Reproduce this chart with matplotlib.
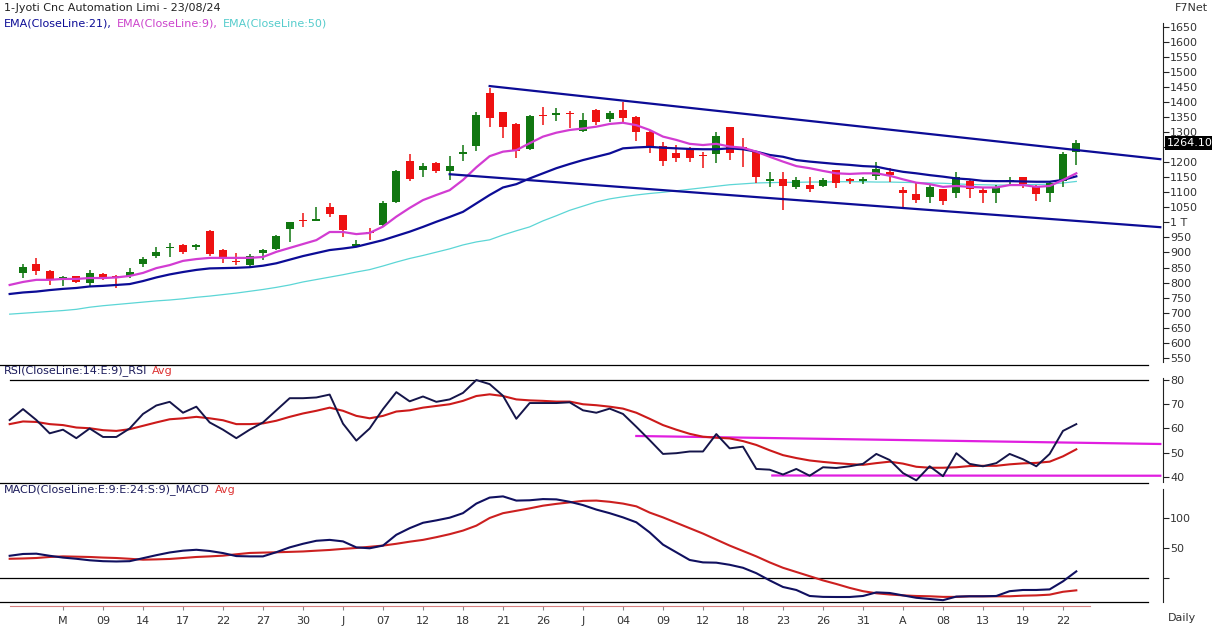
import numpy as np
import matplotlib
matplotlib.use('Agg')
import matplotlib.pyplot as plt
from matplotlib.lines import Line2D
from matplotlib.transforms import blended_transform_factory

W, H = 1212, 627

# ---- candles (index 0..79) ----
opens = [831, 863, 837, 815, 822, 800, 828, 821, 822, 861,
         888, 914, 925, 917, 971, 908, 872, 858, 897, 911,
         977, 1007, 1006, 1050, 1025, 923, 968, 990, 1069, 1203,
         1173, 1196, 1172, 1228, 1255, 1429, 1366, 1327, 1244, 1357,
         1357, 1364, 1303, 1375, 1342, 1373, 1349, 1301, 1254, 1231,
         1243, 1222, 1226, 1316, 1250, 1235, 1138, 1143, 1117, 1124,
         1121, 1174, 1143, 1138, 1155, 1168, 1107, 1094, 1083, 1111,
         1097, 1138, 1107, 1096, 1137, 1151, 1121, 1096, 1138, 1235]
highs = [863, 880, 842, 823, 823, 842, 832, 825, 850, 886,
         918, 933, 928, 928, 975, 910, 897, 895, 910, 957,
         1002, 1030, 1050, 1064, 1025, 940, 980, 1072, 1175, 1227,
         1197, 1200, 1220, 1257, 1368, 1445, 1366, 1330, 1357, 1384,
         1380, 1371, 1362, 1378, 1371, 1401, 1352, 1307, 1268, 1257,
         1250, 1235, 1301, 1316, 1280, 1238, 1168, 1168, 1150, 1152,
         1148, 1174, 1146, 1151, 1201, 1180, 1116, 1132, 1124, 1111,
         1166, 1140, 1113, 1124, 1151, 1152, 1124, 1139, 1234, 1274]
lows = [815, 825, 792, 787, 797, 786, 808, 783, 815, 851,
        882, 886, 895, 908, 888, 865, 858, 851, 875, 908,
        936, 984, 1005, 1019, 953, 920, 940, 986, 1065, 1138,
        1151, 1165, 1140, 1205, 1238, 1318, 1279, 1213, 1240, 1323,
        1338, 1312, 1301, 1323, 1335, 1329, 1271, 1231, 1187, 1202,
        1202, 1180, 1196, 1207, 1185, 1132, 1118, 1041, 1110, 1100,
        1117, 1113, 1127, 1127, 1141, 1135, 1046, 1063, 1066, 1058,
        1080, 1080, 1066, 1063, 1124, 1115, 1072, 1069, 1117, 1190]
closes = [853, 837, 809, 818, 803, 831, 812, 818, 836, 877,
          902, 917, 900, 924, 895, 881, 869, 888, 908, 954,
          1000, 1004, 1012, 1027, 975, 928, 965, 1066, 1170, 1144,
          1186, 1172, 1187, 1233, 1357, 1346, 1316, 1237, 1353, 1352,
          1362, 1361, 1340, 1332, 1362, 1346, 1301, 1254, 1205, 1215,
          1215, 1220, 1287, 1231, 1242, 1152, 1143, 1121, 1141, 1110,
          1141, 1130, 1138, 1143, 1177, 1157, 1096, 1074, 1116, 1072,
          1150, 1110, 1096, 1113, 1141, 1127, 1094, 1130, 1227, 1264.10]

# ---- indicator lines (index -1..79) ----
ema9 = [792, 802, 809, 809, 812, 812, 815, 815, 817, 822, 832,
        848, 858, 872, 878, 882, 882, 882, 882, 885, 902,
        915, 928, 941, 968, 968, 961, 965, 986, 1019, 1048,
        1074, 1091, 1107, 1141, 1183, 1220, 1235, 1240, 1263, 1285,
        1298, 1307, 1312, 1318, 1327, 1331, 1323, 1307, 1285, 1274,
        1261, 1257, 1261, 1252, 1248, 1235, 1218, 1202, 1187, 1180,
        1171, 1163, 1161, 1163, 1163, 1155, 1143, 1132, 1127, 1118,
        1121, 1118, 1116, 1116, 1124, 1124, 1118, 1121, 1141, 1163]
ema21 = [762, 767, 770, 775, 779, 782, 787, 789, 792, 795, 805,
         817, 827, 835, 842, 847, 848, 849, 851, 856, 864,
         876, 888, 898, 908, 913, 919, 930, 941, 955, 969,
         985, 1002, 1018, 1035, 1063, 1091, 1116, 1127, 1146, 1163,
         1180, 1194, 1207, 1218, 1229, 1246, 1249, 1251, 1248, 1246,
         1244, 1243, 1243, 1246, 1243, 1235, 1224, 1218, 1207, 1202,
         1198, 1194, 1191, 1187, 1185, 1176, 1168, 1163, 1157, 1152,
         1146, 1143, 1138, 1137, 1137, 1136, 1135, 1135, 1141, 1153]
ema50 = [695, 698, 701, 704, 707, 711, 718, 723, 727, 731, 735,
         739, 742, 746, 751, 755, 760, 765, 771, 777, 784,
         792, 802, 810, 818, 826, 835, 843, 855, 868, 880,
         890, 901, 912, 925, 935, 942, 958, 972, 985, 1005,
         1022, 1040, 1054, 1068, 1078, 1085, 1091, 1096, 1100, 1105,
         1110, 1115, 1120, 1125, 1128, 1131, 1132, 1133, 1133, 1134,
         1134, 1135, 1135, 1135, 1134, 1134, 1133, 1132, 1131, 1130,
         1128, 1126, 1125, 1124, 1124, 1125, 1126, 1127, 1131, 1136]

rsi = [63.5, 68, 63.5, 58, 59.5, 56, 60, 56.5, 56.5, 60, 66,
       69.5, 71, 66.5, 69, 62.5, 59.5, 56, 59.5, 62.5, 67.5,
       72.5, 72.5, 72.8, 74, 62, 55, 60, 68, 75, 71.2,
       73.2, 71, 72, 74.7, 80, 78.3, 73.5, 64, 70.5, 70.5,
       70.5, 70.8, 67.5, 66.5, 68.2, 66, 60.7, 55.2, 49.5, 49.8,
       50.5, 50.5, 57.7, 51.8, 52.5, 43.3, 43, 41, 43.3, 40.5,
       44, 43.7, 44.4, 45.4, 49.5, 47, 41.6, 38.6, 44.4, 40.3,
       49.8, 45.4, 44.4, 45.7, 49.5, 47.3, 44.4, 49.5, 59, 61.8]
rsi_avg = [61.8, 62.9, 62.7, 61.8, 61.4, 60.4, 60.1, 59.3, 59, 59.7, 61.1,
           62.5, 63.8, 64.2, 64.8, 64.2, 63.4, 61.8, 61.8, 62.1, 63.2,
           64.8, 66.2, 67.3, 68.6, 67.3, 65.2, 64.2, 65.2, 67, 67.5,
           68.6, 69.3, 70, 71.4, 73.4, 74.1, 73.4, 72, 71.6, 71.4,
           71.1, 71.1, 70, 69.6, 69, 68.2, 66.5, 64, 61.4, 59.5,
           57.8, 56.6, 56.2, 55.9, 54.8, 53.2, 51, 49, 47.8, 46.8,
           46.2, 45.7, 45.3, 45, 45.7, 46.3, 45.5, 44.2, 43.8, 43.8,
           44, 44.5, 44.6, 44.6, 45.2, 45.6, 45.8, 46.3, 48.5, 51.4]

macd = [37, 40, 40.5, 37, 34, 32, 29.5, 28, 27.5, 28, 33,
        38, 42.5, 45.5, 47, 45, 41.5, 36.5, 36, 36, 43,
        51, 57, 62, 63.5, 61, 51, 49.5, 54, 72, 83,
        92, 96, 100.5, 108, 124, 134, 136, 129, 129.5, 131.5,
        131, 127, 121.5, 114, 108, 101, 92.8, 76, 55.6, 42.8,
        30, 26, 25.5, 22, 17, 8, -4, -15, -20, -30,
        -31.5, -31.7, -31.7, -30, -24, -25, -29, -33, -35, -37,
        -31, -30.5, -30.5, -30, -22, -20, -20, -19, -5.6, 11]
macd_avg = [32, 32.5, 33.3, 35, 36, 35.5, 35, 34, 33.3, 32, 30.5,
            31, 31.7, 33.3, 35, 36, 37.2, 39.5, 41.7, 42.3, 42.8,
            43.5, 44.2, 45.5, 46.7, 48.5, 50, 52, 54, 57, 60.5,
            63.5, 68, 73, 79, 87.2, 100, 108, 112, 116, 120.5,
            123.5, 126, 128.5, 129, 127, 124, 119.4, 109, 101, 92,
            83, 74, 64, 54, 45, 36, 26, 17, 10, 3,
            -4, -10, -16.5, -22, -25.5, -27.5, -29, -30, -30.5, -31.5,
            -31.5, -30.5, -30.5, -30.5, -30.5, -29.5, -29, -27.8, -23, -20.6]

# trend lines drawn on the chart (bar index, value)
upper_line_x = [35.0, 85.3]
upper_line_y = [1453, 1210]
lower_line_x = [32.0, 85.3]
lower_line_y = [1160, 984]
rsi_upper_x = [46.0, 85.3]
rsi_upper_y = [56.9, 53.6]
rsi_lower_x = [56.2, 85.3]
rsi_lower_y = [40.6, 40.5]

tick_pos = list(range(3, 79, 3))
tick_labels = ['M', '09', '14', '17', '22', '27', '30', 'J', '07', '12', '18', '21', '26',
               'J', '04', '09', '12', '18', '23', '26', '31', 'A', '08', '13', '19', '22']

price_ticks = list(range(550, 1651, 50))

GREEN = '#117711'
RED = '#ee1111'
NAVY = '#0c0c96'
MAGENTA = '#d23cd2'
CYAN = '#5cd6d6'
TXT = '#333333'


def px_axes(fig, x0, y0, x1, y1):
    return fig.add_axes([x0 / W, 1 - y1 / H, (x1 - x0) / W, (y1 - y0) / H])


def chain_text(fig, x, y, parts, gap=0):
    r = fig.canvas.get_renderer()
    for s, c in parts:
        t = fig.text(x / W, 1 - y / H, s, color=c, fontsize=8, va='center', ha='left')
        x += t.get_window_extent(renderer=r).width + gap


def style_axis(ax, lo, hi):
    for s in ['top', 'left', 'bottom']:
        ax.spines[s].set_visible(False)
    ax.spines['right'].set_bounds(lo, hi)
    ax.spines['right'].set_color('#222222')
    ax.spines['right'].set_linewidth(0.8)
    ax.yaxis.tick_right()
    ax.tick_params(axis='y', direction='out', length=4, width=0.8, pad=1,
                   labelsize=8, labelcolor=TXT, color='#222222')
    ax.set_xticks([])
    ax.patch.set_alpha(0)


def price_label(p):
    # 1250 sits under the last-price box, 1000 is shown as "1 T"
    if p == 1000:
        return '1 T'
    if p == 1250:
        return ''
    return str(p)


def main():
    fig = plt.figure(figsize=(W / 100, H / 100), dpi=100)
    fig.patch.set_facecolor('white')
    xlim = (-23 / 13.333, 1140 / 13.333)
    xs = np.arange(-1, 80)
    idx = np.arange(80)

    # ---- price panel ----
    ax = px_axes(fig, 0, 0, 1163, 365)
    ax.set_xlim(*xlim)
    ax.set_ylim(526, 1739)
    style_axis(ax, 535, 1662)
    ax.set_yticks(price_ticks)
    ax.set_yticklabels([price_label(p) for p in price_ticks])

    o = np.array(opens)
    c = np.array(closes)
    up = c > o
    colors = np.where(up, GREEN, RED)
    ax.vlines(idx, lows, highs, colors=colors, linewidth=1.1, zorder=3)
    body_lo = np.minimum(o, c)
    body_h = np.maximum(np.abs(c - o), 3)
    ax.bar(idx, body_h, bottom=body_lo, width=0.62, color=colors, linewidth=0, zorder=4)

    ax.plot(xs, ema50, color=CYAN, lw=0.9, zorder=2)
    ax.plot(xs, ema21, color=NAVY, lw=1.6, zorder=5)
    ax.plot(xs, ema9, color=MAGENTA, lw=1.6, zorder=5)
    ax.plot(upper_line_x, upper_line_y, color=NAVY, lw=1.6, zorder=6)
    ax.plot(lower_line_x, lower_line_y, color=NAVY, lw=1.6, zorder=6)

    tr = blended_transform_factory(ax.transAxes, ax.transData)
    ax.text(1.003, closes[-1], f'{closes[-1]:.2f}', transform=tr, ha='left', va='center',
            fontsize=8, color='white', zorder=10, clip_on=False,
            bbox=dict(facecolor='black', edgecolor='none', pad=1.2))

    # ---- RSI panel ----
    ar = px_axes(fig, 0, 365, 1163, 483)
    ar.set_xlim(*xlim)
    ar.set_ylim(37.5, 86.2)
    style_axis(ar, 38, 81)
    ar.set_yticks([40, 50, 60, 70, 80])
    ar.axhline(80, xmin=10 / 1163, xmax=1148 / 1163, color='black', lw=0.9)
    ar.plot(rsi_upper_x, rsi_upper_y, color='#e01ee0', lw=1.6)
    ar.plot(rsi_lower_x, rsi_lower_y, color='#e01ee0', lw=1.6)
    ar.plot(xs, rsi_avg, color='#cc1a1a', lw=1.5)
    ar.plot(xs, rsi, color='#15154a', lw=1.4)

    # ---- MACD panel ----
    am = px_axes(fig, 0, 483, 1163, 606)
    am.set_xlim(*xlim)
    am.set_ylim(-46.7, 158.3)
    style_axis(am, -40, 148)
    am.set_yticks([0, 50, 100])
    am.set_yticklabels(['', '50', '100'])
    am.axhline(0, xmax=1148 / 1163, color='black', lw=0.9)
    am.plot(xs, macd_avg, color='#cc2020', lw=1.5)
    am.plot(xs, macd, color='#101060', lw=1.5)
    am.spines['bottom'].set_visible(True)
    am.spines['bottom'].set_color('#d88080')
    am.spines['bottom'].set_bounds(-1, 80)
    am.set_xticks(tick_pos)
    am.set_xticklabels(tick_labels)
    am.tick_params(axis='x', length=3, width=0.8, color='#888888', labelsize=8,
                   labelcolor=TXT, pad=4)

    # panel separators
    for y in [365, 483, 602]:
        fig.add_artist(Line2D([0, 1148 / W], [1 - y / H] * 2, color='black', lw=0.9))

    # ---- texts ----
    fig.text(4 / W, 1 - 8 / H, '1-Jyoti Cnc Automation Limi - 23/08/24', fontsize=8,
             color='#222222', va='center', ha='left')
    chain_text(fig, 4, 23, [('EMA(CloseLine:21),', NAVY), ('EMA(CloseLine:9),', '#cc44cc'),
                            ('EMA(CloseLine:50)', '#55cccc')], gap=5)
    fig.text(1175 / W, 1 - 8 / H, 'F7Net', fontsize=8, color=TXT, va='center', ha='left')
    chain_text(fig, 4, 371, [('RSI(CloseLine:14:E:9)_RSI', '#1c1c5c'), ('Avg', '#dd3333')], gap=5)
    chain_text(fig, 4, 490, [('MACD(CloseLine:E:9:E:24:S:9)_MACD', '#1c1c5c'), ('Avg', '#dd3333')], gap=5)
    fig.text(1168 / W, 1 - 618 / H, 'Daily', fontsize=8, color=TXT, va='center', ha='left')

    fig.savefig('out.png', dpi=100, facecolor='white')


if __name__ == '__main__':
    main()
